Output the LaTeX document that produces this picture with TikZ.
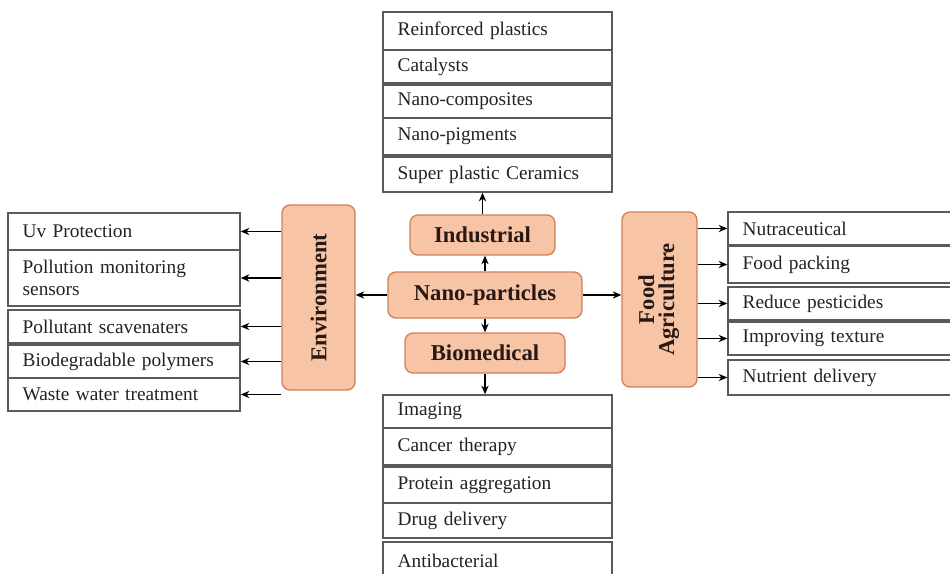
\documentclass[tikz,border=0pt]{standalone}
\usepackage{fontspec}
\setmainfont{Liberation Serif}
\usetikzlibrary{arrows.meta}

\begin{document}
\begin{tikzpicture}[
    x=0.75pt, y=-0.75pt, % Pixelraster der Vorlage
    % --- Farben ---
    catFill/.style={fill={rgb,255:red,247;green,196;blue,166}, draw={rgb,255:red,206;green,128;blue,88}},
    itemDraw/.style={draw={rgb,255:red,90;green,90;blue,90}, fill=white},
    % --- Knotenstile ---
    category/.style={catFill, line width=1pt, rounded corners=6pt, align=center, inner sep=0pt,
        font=\fontsize{17}{17}\selectfont\bfseries, text={rgb,255:red,40;green,25;blue,20}},
    item/.style={itemDraw, line width=1.1pt, align=left, inner xsep=11pt, inner ysep=0pt,
        font=\fontsize{14.5}{16.5}\selectfont, text={rgb,255:red,35;green,35;blue,35}},
    colItem/.style={item, minimum width=171.75pt, text width=149.75pt},
    sideItem/.style={item, minimum width=174pt, text width=152pt},
    % --- Pfeile ---
    link/.style={-{Stealth[length=6.5pt, width=5.5pt]}, line width=0.9pt, black}
]

    % Bildrahmen
    \clip (0,0) rectangle (950,574);
    \fill[white] (0,0) rectangle (950,574);

    % ===========================
    % 1. KATEGORIEN
    % ===========================
    \node[category, minimum width=108.75pt, minimum height=30pt]  (ind)  at (482.5, 235) {Industrial};
    \node[category, minimum width=145.5pt, minimum height=34.5pt] (nano) at (485, 295)   {Nano-particles};
    \node[category, minimum width=120pt, minimum height=30pt]     (bio)  at (485, 353)   {Biomedical};
    \node[category, minimum width=54.75pt, minimum height=138.75pt] (env)  at (318.5, 297.5) {\rotatebox{90}{Environment}};
    \node[category, minimum width=56.25pt, minimum height=131.25pt] (food) at (659.5, 299.5)
        {\rotatebox{90}{\begin{tabular}{@{}c@{}}Food\\[-2pt]Agriculture\end{tabular}}};

    % ===========================
    % 2. ANWENDUNGEN
    % ===========================
    % oben (Industrial)
    \node[colItem, minimum height=28.5pt]  (rpl) at (497.5, 31)    {Reinforced plastics};
    \node[colItem, minimum height=24.75pt] (cat) at (497.5, 66.5)  {Catalysts};
    \node[colItem, minimum height=24.75pt] (ncp) at (497.5, 101.5) {Nano-composites};
    \node[colItem, minimum height=27.75pt] (npg) at (497.5, 136.5) {Nano-pigments};
    \node[colItem, minimum height=26.25pt] (spc) at (497.5, 174.5) {Super plastic Ceramics};

    % unten (Biomedical)
    \node[colItem, minimum height=24.75pt] (img) at (497.5, 411.5) {Imaging};
    \node[colItem, minimum height=27.75pt] (cth) at (497.5, 446.5) {Cancer therapy};
    \node[colItem, minimum height=27pt]    (pag) at (497.5, 485)   {Protein aggregation};
    \node[colItem, minimum height=26.25pt] (ddl) at (497.5, 520.5) {Drug delivery};
    \node[colItem, minimum height=28.5pt]  (abc) at (497.5, 561)   {Antibacterial};

    % links (Environment)
    \node[sideItem, minimum height=27.75pt] (uvp) at (124, 231.5) {Uv Protection};
    \node[sideItem, minimum height=42pt]    (pms) at (124, 278)   {Pollution monitoring\\sensors};
    \node[sideItem, minimum height=24.75pt] (psc) at (124, 326.5) {Pollutant scavenaters};
    \node[sideItem, minimum height=24.75pt] (bdp) at (124, 361.5) {Biodegradable polymers};
    \node[sideItem, minimum height=24.75pt] (wwt) at (124, 394.5) {Waste water treatment};

    % rechts (Food Agriculture)
    \node[sideItem, minimum height=24.75pt] (nut) at (844, 228.5) {Nutraceutical};
    \node[sideItem, minimum height=27.75pt] (fpk) at (844, 264.5) {Food packing};
    \node[sideItem, minimum height=24.75pt] (rpe) at (844, 303.5) {Reduce pesticides};
    \node[sideItem, minimum height=24.75pt] (itx) at (844, 338.5) {Improving texture};
    \node[sideItem, minimum height=26.25pt] (ndl) at (844, 377.5) {Nutrient delivery};

    % ===========================
    % 3. VERBINDUNGEN
    % ===========================
    \draw[link] (nano.north) -- (nano.north |- ind.south);
    \draw[link] (ind.north) -- (ind.north |- spc.south);
    \draw[link] (nano.south) -- (nano.south |- bio.north);
    \draw[link] (bio.south) -- (bio.south |- img.north);
    \draw[link] (nano.west) -- (nano.west -| env.east);
    \draw[link] (nano.east) -- (nano.east -| food.west);

    % Environment -> links
    \foreach \n in {uvp, pms, psc, bdp, wwt}
        \draw[link] (env.west |- \n.east) -- (\n.east);

    % Food Agriculture -> rechts
    \foreach \n in {nut, fpk, rpe, itx, ndl}
        \draw[link] (food.east |- \n.west) -- (\n.west);

\end{tikzpicture}
\end{document}
